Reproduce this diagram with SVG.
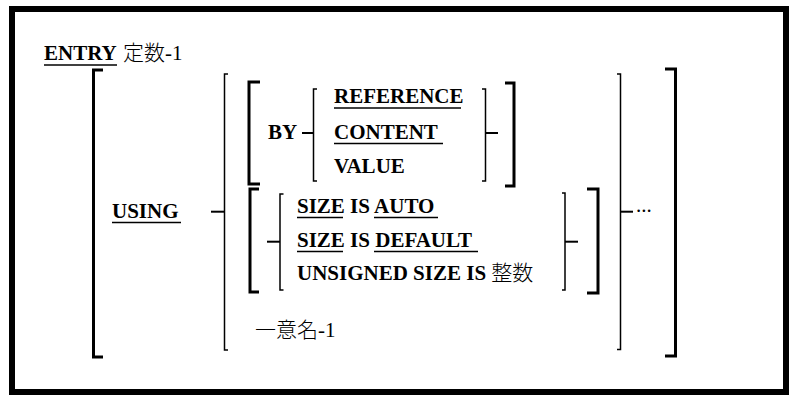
<svg xmlns="http://www.w3.org/2000/svg" width="799" height="404" viewBox="0 0 799 404">
<style>
text{font-family:'Liberation Serif','DejaVu Serif','Noto Sans CJK JP',serif;font-size:21px;fill:#000}
.t{font-weight:bold}
.n{font-weight:normal}
.j{font-family:'Noto Sans CJK JP',sans-serif;font-weight:300}
.thick{fill:none;stroke:#000;stroke-width:3}
.thin{fill:none;stroke:#000;stroke-width:1.5}
.tick{stroke:#000;stroke-width:2}
.ul{stroke:#000;stroke-width:1.5}
</style>
<rect x="12" y="9" width="774" height="383" fill="#fff" stroke="#000" stroke-width="6"/>
<g id="entry">
<text class="t" x="44" y="60">ENTRY</text>
<line class="ul" x1="44" y1="65" x2="117" y2="65"/>
<text class="n" x="123" y="60"><tspan class="j">定数</tspan>-1</text>
</g>
<g id="using">
<text class="t" x="112" y="217.5">USING</text>
<line class="ul" x1="112" y1="222.5" x2="181" y2="222.5"/>
</g>
<g id="by">
<text class="t" x="268" y="138.5">BY</text>
</g>
<g id="by-options">
<text class="t" x="334" y="103">REFERENCE</text>
<line class="ul" x1="334" y1="108" x2="461" y2="108"/>
<text class="t" x="334" y="138.5">CONTENT</text>
<line class="ul" x1="334" y1="143.5" x2="443" y2="143.5"/>
<text class="t" x="334" y="173">VALUE</text>
</g>
<g id="size-options">
<text class="t" x="297" y="213">SIZE IS AUTO</text>
<line class="ul" x1="297" y1="217.5" x2="343" y2="217.5"/>
<line class="ul" x1="374" y1="217.5" x2="438" y2="217.5"/>
<text class="t" x="297" y="247">SIZE IS DEFAULT</text>
<line class="ul" x1="297" y1="251.5" x2="343" y2="251.5"/>
<line class="ul" x1="374" y1="251.5" x2="478" y2="251.5"/>
<text class="t" x="297" y="280">UNSIGNED SIZE IS <tspan class="j">整数</tspan></text>
</g>
<g id="name">
<text class="n" x="255" y="337"><tspan class="j">一意名</tspan>-1</text>
</g>
<g id="ellipsis">
<text class="n" x="636" y="212">...</text>
</g>
<g id="connectors">
<path class="thick" d="M103,70 H93.5 V357 H103"/>
<path class="thick" d="M665,69 H675.5 V356 H665"/>
<path class="thin" d="M228,74 H224.5 V350 H228"/>
<line class="tick" x1="211" y1="211.7" x2="224.5" y2="211.7"/>
<path class="thin" d="M617,74 H620.5 V349.5 H617"/>
<line class="tick" x1="620.5" y1="211.7" x2="633" y2="211.7"/>
<path class="thick" d="M260,82 H249 V184 H260"/>
<path class="thick" d="M505,83 H514 V186 H505"/>
<path class="thin" d="M317,89 H313.5 V181 H317"/>
<line class="tick" x1="302" y1="133" x2="313.5" y2="133"/>
<path class="thin" d="M482,89 H485.5 V181 H482"/>
<line class="tick" x1="485.5" y1="133" x2="498" y2="133"/>
<path class="thick" d="M259,189 H250 V292 H259"/>
<path class="thick" d="M587,189 H598 V293 H587"/>
<path class="thin" d="M283.5,194 H280 V290 H283.5"/>
<line class="tick" x1="267" y1="241.7" x2="280" y2="241.7"/>
<path class="thin" d="M562,193 H565 V290 H562"/>
<line class="tick" x1="565" y1="241.7" x2="578" y2="241.7"/>
</g>
</svg>
